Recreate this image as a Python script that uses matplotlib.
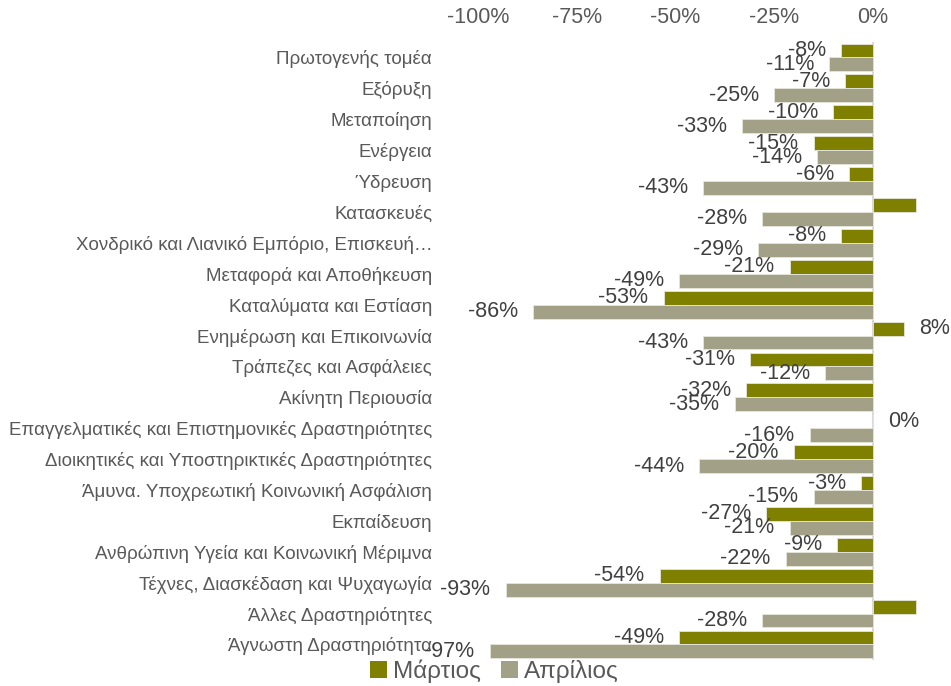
import matplotlib.pyplot as plt
from matplotlib.patches import Patch
from matplotlib.ticker import FuncFormatter
import numpy as np

plt.rcParams['font.family'] = ['Liberation Sans', 'DejaVu Sans']

categories = [
    "Πρωτογενής τομέα", "Εξόρυξη", "Μεταποίηση", "Ενέργεια", "Ύδρευση",
    "Κατασκευές", "Χονδρικό και Λιανικό Εμπόριο, Επισκευή…",
    "Μεταφορά και Αποθήκευση", "Καταλύματα και Εστίαση",
    "Ενημέρωση και Επικοινωνία", "Τράπεζες και Ασφάλειες",
    "Ακίνητη Περιουσία", "Επαγγελματικές και Επιστημονικές Δραστηριότητες",
    "Διοικητικές και Υποστηρικτικές Δραστηριότητες",
    "Άμυνα. Υποχρεωτική Κοινωνική Ασφάλιση", "Εκπαίδευση",
    "Ανθρώπινη Υγεία και Κοινωνική Μέριμνα",
    "Τέχνες, Διασκέδαση και Ψυχαγωγία", "Άλλες Δραστηριότητες",
    "Άγνωστη Δραστηριότητα",
]
# percent change
march = [-8, -7, -10, -15, -6, 11, -8, -21, -53, 8, -31, -32, 0, -20, -3, -27, -9, -54, 11, -49]
april = [-11, -25, -33, -14, -43, -28, -29, -49, -86, -43, -12, -35, -16, -44, -15, -21, -22, -93, -28, -97]
# March labels that are not shown in the original
march_hidden = ["Κατασκευές", "Άλλες Δραστηριότητες"]
xticks = [-100, -75, -50, -25, 0]

c_mar = '#808000'
c_apr = '#a3a088'
txt = '#595959'

fig = plt.figure(figsize=(9.51, 6.86), dpi=100)
ax = fig.add_axes([0.5026, 0.038, 0.4774, 0.9008])

y = np.arange(len(categories))
h = 0.45
ax.barh(y - h / 2, march, height=h, color=c_mar, edgecolor='#e6e6dc', linewidth=0.6, zorder=2)
ax.barh(y + h / 2, april, height=h, color=c_apr, edgecolor='#e6e6dc', linewidth=0.6, zorder=2)

def put_label(val, yy):
    if val < 0:
        ax.annotate(f"{val}%", (val, yy), xytext=(-11, 0), textcoords='offset points',
                    ha='right', va='center', fontsize=15.5, color='#404040', zorder=3)
    else:
        ax.annotate(f"{val}%", (val, yy), xytext=(11, 0), textcoords='offset points',
                    ha='left', va='center', fontsize=15.5, color='#404040', zorder=3)

for i, cat in enumerate(categories):
    if cat not in march_hidden:
        put_label(march[i], y[i] - h / 2)
    put_label(april[i], y[i] + h / 2)

ax.axvline(0, color='#d9d9d9', lw=1.5, zorder=1)

ax.set_xlim(-100, 15)
ax.set_ylim(len(categories) - 0.5, -0.5)
ax.xaxis.tick_top()
ax.set_xticks(xticks)
ax.xaxis.set_major_formatter(FuncFormatter(lambda v, p: f"{v:.0f}%"))
ax.tick_params(axis='x', length=0, pad=10, labelsize=15.5, labelcolor=txt)
ax.set_yticks(y)
ax.set_yticklabels(categories)
ax.tick_params(axis='y', length=0, pad=33, labelsize=13.5, labelcolor=txt)
for s in ax.spines.values():
    s.set_visible(False)

handles = [Patch(facecolor=c_mar, label='Μάρτιος'), Patch(facecolor=c_apr, label='Απρίλιος')]
fig.legend(handles=handles, loc='center', bbox_to_anchor=(0.52, 0.021), ncol=2, frameon=False,
           fontsize=17.5, labelcolor=txt, handlelength=0.7, handleheight=0.7,
           handletextpad=0.25, columnspacing=0.8, borderaxespad=0)

fig.savefig('out.png', dpi=100)
